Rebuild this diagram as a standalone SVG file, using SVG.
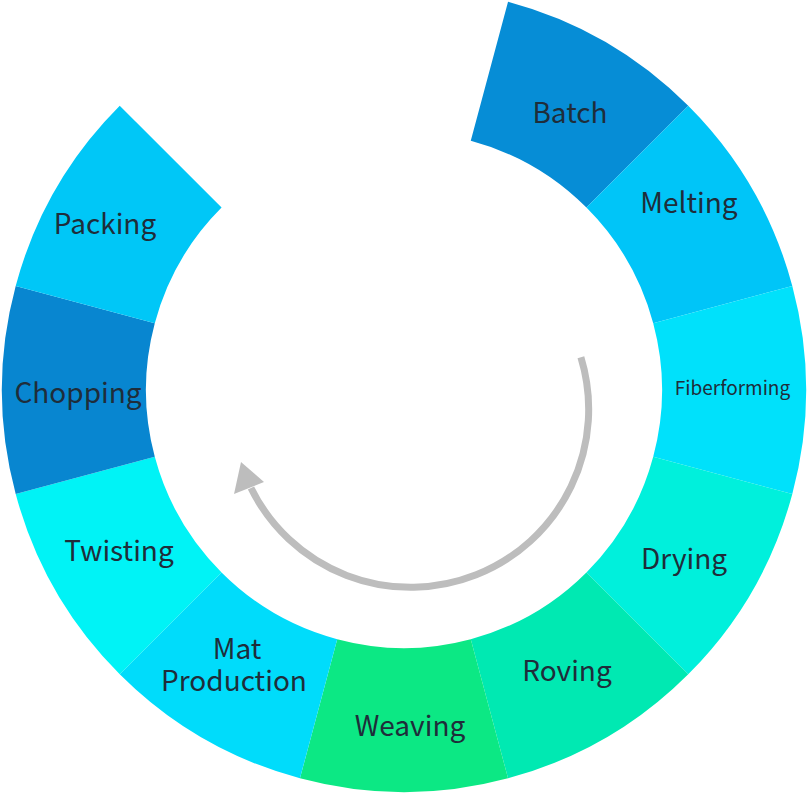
<svg xmlns="http://www.w3.org/2000/svg" width="809" height="793" viewBox="0 0 809 793">
<style>
.lbl{font-family:"Noto Sans CJK SC","Noto Sans",sans-serif;font-size:28px;fill:#1f2d3a;text-anchor:middle}
.small{font-size:19px}
.arc{fill:none;stroke:#bdbdbd;stroke-width:7;stroke-linecap:butt}
</style>
<rect width="809" height="793" fill="#ffffff"/>
<g id="batch"><path d="M508.05,1.70 A402,402 0 0 1 688.26,105.74 L586.43,207.57 A258,258 0 0 0 470.78,140.79 Z" fill="#068dd6"/><text class="lbl" x="570" y="123">Batch</text></g>
<g id="melting"><path d="M688.26,105.74 A402,402 0 0 1 792.30,285.95 L653.21,323.22 A258,258 0 0 0 586.43,207.57 Z" fill="#00c5f8"/><text class="lbl" x="689" y="213">Melting</text></g>
<g id="fiberforming"><path d="M792.30,285.95 A402,402 0 0 1 792.30,494.05 L653.21,456.78 A258,258 0 0 0 653.21,323.22 Z" fill="#00e1fb"/><text class="lbl small" x="732.5" y="395">Fiberforming</text></g>
<g id="drying"><path d="M792.30,494.05 A402,402 0 0 1 688.26,674.26 L586.43,572.43 A258,258 0 0 0 653.21,456.78 Z" fill="#00f0dc"/><text class="lbl" x="684" y="569">Drying</text></g>
<g id="roving"><path d="M688.26,674.26 A402,402 0 0 1 508.05,778.30 L470.78,639.21 A258,258 0 0 0 586.43,572.43 Z" fill="#00e9b2"/><text class="lbl" x="567" y="681">Roving</text></g>
<g id="weaving"><path d="M508.05,778.30 A402,402 0 0 1 299.95,778.30 L337.22,639.21 A258,258 0 0 0 470.78,639.21 Z" fill="#0ce884"/><text class="lbl" x="410" y="736">Weaving</text></g>
<g id="mat"><path d="M299.95,778.30 A402,402 0 0 1 119.74,674.26 L221.57,572.43 A258,258 0 0 0 337.22,639.21 Z" fill="#00dcfb"/><text class="lbl" x="237" y="659">Mat</text><text class="lbl" x="234" y="691">Production</text></g>
<g id="twisting"><path d="M119.74,674.26 A402,402 0 0 1 15.70,494.05 L154.79,456.78 A258,258 0 0 0 221.57,572.43 Z" fill="#00f3f6"/><text class="lbl" x="119" y="561">Twisting</text></g>
<g id="chopping"><path d="M15.70,494.05 A402,402 0 0 1 15.70,285.95 L154.79,323.22 A258,258 0 0 0 154.79,456.78 Z" fill="#0886d0"/><text class="lbl" x="78" y="403">Chopping</text></g>
<g id="packing"><path d="M15.70,285.95 A402,402 0 0 1 119.74,105.74 L221.57,207.57 A258,258 0 0 0 154.79,323.22 Z" fill="#00c7f7"/><text class="lbl" x="105" y="234">Packing</text></g>
<g id="connectors">
<path class="arc" d="M580.9,357.3 A178,178 0 0 1 251,488"/>
<polygon points="241,462 234,494 264,482" fill="#bdbdbd"/>
</g>
</svg>
